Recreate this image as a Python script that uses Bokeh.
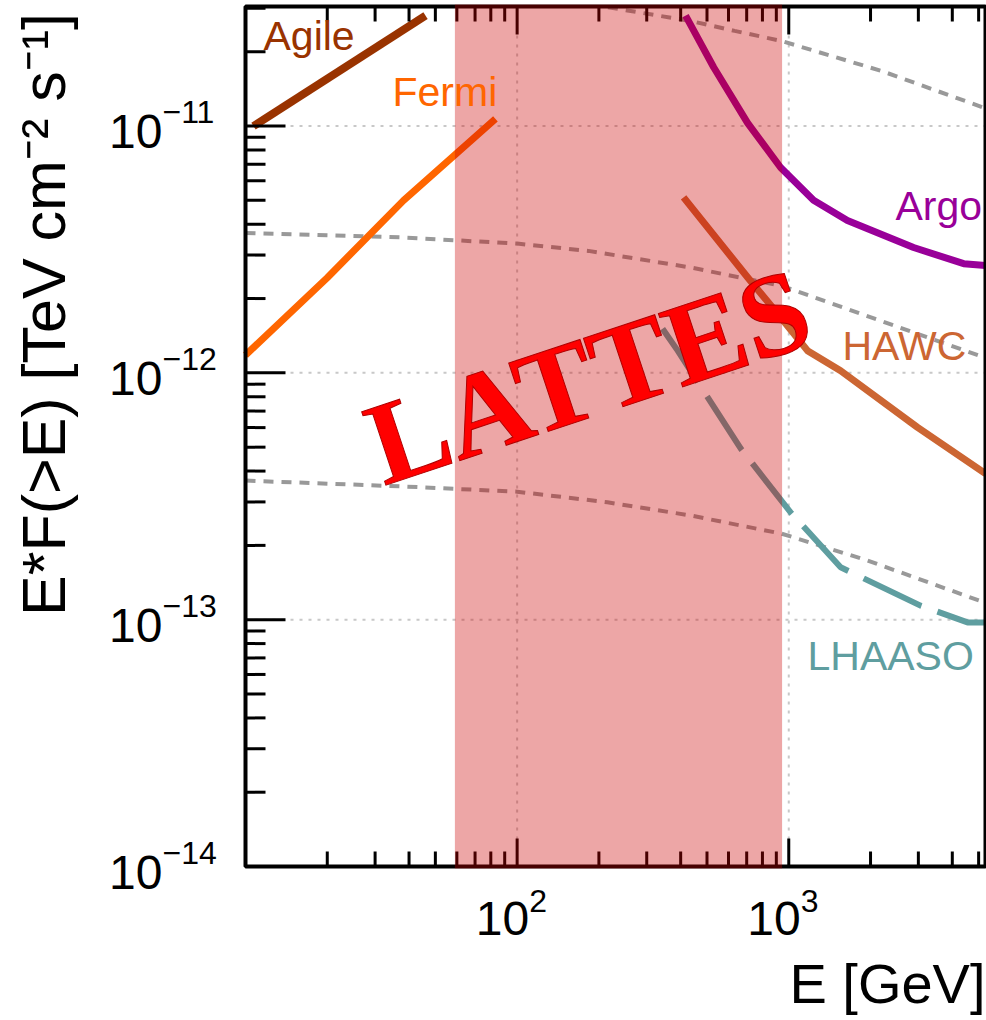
import math
from bokeh.plotting import figure
from bokeh.models import Label
from bokeh.embed import file_html
from bokeh.resources import INLINE

# ---------------- data ----------------
agile_E = [10.7, 46.0]
agile_F = [1.0e-11, 2.80e-11]

fermi_E = [10, 20, 38.2, 83.2]
fermi_F = [1.18e-12, 2.43e-12, 5.0e-12, 1.07e-11]

argo_E = [417, 529, 705, 933, 1234, 1644, 2881, 4405, 5300]
argo_F = [2.80e-11, 1.73e-11, 1.03e-11, 6.79e-12, 5.00e-12, 4.14e-12, 3.22e-12, 2.77e-12, 2.72e-12]

hawc_E = [410, 705, 933, 1172, 1552, 2979, 5300]
hawc_F = [5.14e-12, 2.44e-12, 1.68e-12, 1.23e-12, 1.02e-12, 6.01e-13, 3.91e-13]

lhaaso_E = [343, 390, 665, 1016, 1552, 3055, 4549, 5300]
lhaaso_F = [1.51e-12, 1.23e-12, 4.94e-13, 2.72e-13, 1.63e-13, 1.14e-13, 9.75e-14, 9.75e-14]

crab1_E = [216, 438, 632, 942, 2200, 5300]
crab1_F = [3.03e-11, 2.66e-11, 2.43e-11, 2.21e-11, 1.67e-11, 1.18e-11]

crab01_E = [10, 37, 100, 183, 438, 942, 2200, 5300]
crab01_F = [3.69e-12, 3.54e-12, 3.34e-12, 3.12e-12, 2.67e-12, 2.25e-12, 1.62e-12, 1.15e-12]

crab001_E = [10, 37, 100, 215, 438, 942, 1940, 5300]
crab001_F = [3.66e-13, 3.47e-13, 3.30e-13, 2.99e-13, 2.64e-13, 2.23e-13, 1.74e-13, 1.17e-13]

lattes_band_E = [59, 945]

series_names = ["Agile", "Fermi", "Argo", "HAWC", "LHAASO"]
series_colors = ["#993300", "#ff6600", "#990099", "#cc6633", "#5f9ea0"]

x_major = [10, 100, 1000]
x_exps = ["1", "2", "3"]
y_major = [1e-14, 1e-13, 1e-12, 1e-11]
y_exps = ["\u221214", "\u221213", "\u221212", "\u221211"]

AX = (10, 5300)          # axis range, E [GeV]
AY = (1e-14, 3.05e-11)   # axis range, flux

# ---------------- geometry ----------------
W, H = 986, 1020
FL, FR, FT, FB = 245, 985, 6, 866   # frame pixel edges on the page
DPX = (FR - FL) / math.log10(AX[1] / AX[0])   # pixels per decade
DPY = (FB - FT) / math.log10(AY[1] / AY[0])
BASE_FIX = 0.4   # empirical baseline correction (fraction of font size)


def X(px):
    return 10 ** (math.log10(AX[0]) + (px - FL) / DPX)


def Y(py):
    return 10 ** (math.log10(AY[0]) + (FB - py) / DPY)


def xshift(v, px):
    return v * 10 ** (px / DPX)


def yshift(v, px):
    return v * 10 ** (px / DPY)


p = figure(width=W, height=H, x_axis_type="log", y_axis_type="log",
           x_range=(X(0), X(W)), y_range=(Y(H), Y(0)),
           x_axis_location=None, y_axis_location=None,
           output_backend="svg", toolbar_location=None,
           min_border=0, min_border_left=0, min_border_right=0,
           min_border_top=0, min_border_bottom=0)
p.title.visible = False
p.outline_line_color = None
p.background_fill_color = "white"
p.border_fill_color = "white"
p.grid.visible = False

FONT = "Liberation Sans"


def text(x, y, s, size, dx=0, dy=0, align="left", color="black", **kw):
    """dy: pixels up from the anchor to the text baseline."""
    p.add_layout(Label(x=x, y=y, text=s, x_offset=dx, y_offset=dy + BASE_FIX * size,
                       text_font=kw.pop("font", FONT), text_font_size=f"{size}px",
                       text_align=align, text_baseline="alphabetic",
                       text_color=color, **kw))


# grid (dotted, at major decades)
gx = [v for v in x_major if AX[0] < v < AX[1]]
gy = [v for v in y_major if AY[0] < v < AY[1]]
p.segment(x0=gx, x1=gx, y0=[AY[0]] * len(gx), y1=[AY[1]] * len(gx),
          line_color="#c8c8c8", line_width=2, line_dash="3 6")
p.segment(x0=[AX[0]] * len(gy), x1=[AX[1]] * len(gy), y0=gy, y1=gy,
          line_color="#c8c8c8", line_width=2, line_dash="3 6")

# crab reference curves
for E, F in ((crab1_E, crab1_F), (crab01_E, crab01_F), (crab001_E, crab001_F)):
    p.line(E, F, line_color="#999999", line_width=4, line_dash="10 8")

p.line(agile_E, agile_F, line_color=series_colors[0], line_width=8)
p.line(fermi_E, fermi_F, line_color=series_colors[1], line_width=7)
p.line(argo_E, argo_F, line_color=series_colors[2], line_width=7, line_join="round")
p.line(hawc_E, hawc_F, line_color=series_colors[3], line_width=7, line_join="round")
p.line(lhaaso_E, lhaaso_F, line_color=series_colors[4], line_width=6, line_dash="64 17")

# ticks (inward) on bottom, top and left
x_minor = [m * 10 ** k for k in (1, 2, 3) for m in range(2, 10) if m * 10 ** k < AX[1]]
y_minor = [m * 10.0 ** k for k in (-14, -13, -12, -11) for m in range(2, 10) if m * 10.0 ** k < AY[1]]
for ticks, ln in ((gx, 28), (x_minor, 15)):
    n = len(ticks)
    p.segment(x0=ticks, x1=ticks, y0=[AY[0]] * n, y1=[yshift(AY[0], ln)] * n,
              line_color="black", line_width=3)
    p.segment(x0=ticks, x1=ticks, y0=[AY[1]] * n, y1=[yshift(AY[1], -ln)] * n,
              line_color="black", line_width=3)
for ticks, ln in ((gy, 40), (y_minor, 20)):
    n = len(ticks)
    p.segment(x0=[AX[0]] * n, x1=[xshift(AX[0], ln)] * n, y0=ticks, y1=ticks,
              line_color="black", line_width=3)

# frame
p.quad(left=[AX[0]], right=[AX[1]], bottom=[AY[0]], top=[AY[1]],
       fill_color=None, line_color="black", line_width=4)

# LATTES band (translucent, drawn over everything in the frame)
p.quad(left=[lattes_band_E[0]], right=[lattes_band_E[1]],
       bottom=[yshift(AY[0], -2)], top=[yshift(AY[1], 2)],
       fill_color="#cb0000", fill_alpha=0.35, line_color=None)

# series labels (left edge, baseline in page pixels)
label_px = [(263, 52), (392, 108), (895, 222), (842, 362), (807, 672)]
for name, col, (lx, ly) in zip(series_names, series_colors, label_px):
    text(X(lx), Y(ly), name, 41, color=col)

# LATTES watermark
p.add_layout(Label(x=X(588), y=Y(376), text="LATTES", angle=0.32,
                   text_align="center", text_baseline="alphabetic",
                   text_font="Liberation Serif", text_font_style="bold",
                   text_font_size="118px", text_color="#ff0000",
                   text_outline_color="#b00000"))

# tick labels
for v, e in zip(y_major, y_exps):
    text(AX[0], v, "10", 48, dx=162 - FL, dy=-25, align="right")
    text(AX[0], v, e, 32, dx=162 - FL, dy=1)
for v, e in zip(x_major, x_exps):
    if not (AX[0] < v < AX[1]):
        continue
    text(v, AY[0], "10", 48, dx=12, dy=-71, align="right")
    text(v, AY[0], e, 32, dx=12, dy=-47)

# axis titles
text(AX[1], AY[0], "E [GeV]", 56, dx=0, dy=-139, align="right")
title_size = 61
p.add_layout(Label(x=AX[0], y=Y(314), x_offset=68 - FL - BASE_FIX * title_size, y_offset=0,
                   text="E*F(>E) [TeV cm\u207b\u00b2 s\u207b\u00b9]", angle=math.pi / 2,
                   text_font=FONT, text_font_size=f"{title_size}px",
                   text_align="center", text_baseline="alphabetic", text_color="black"))

open("out.html", "w").write(file_html(p, INLINE))
